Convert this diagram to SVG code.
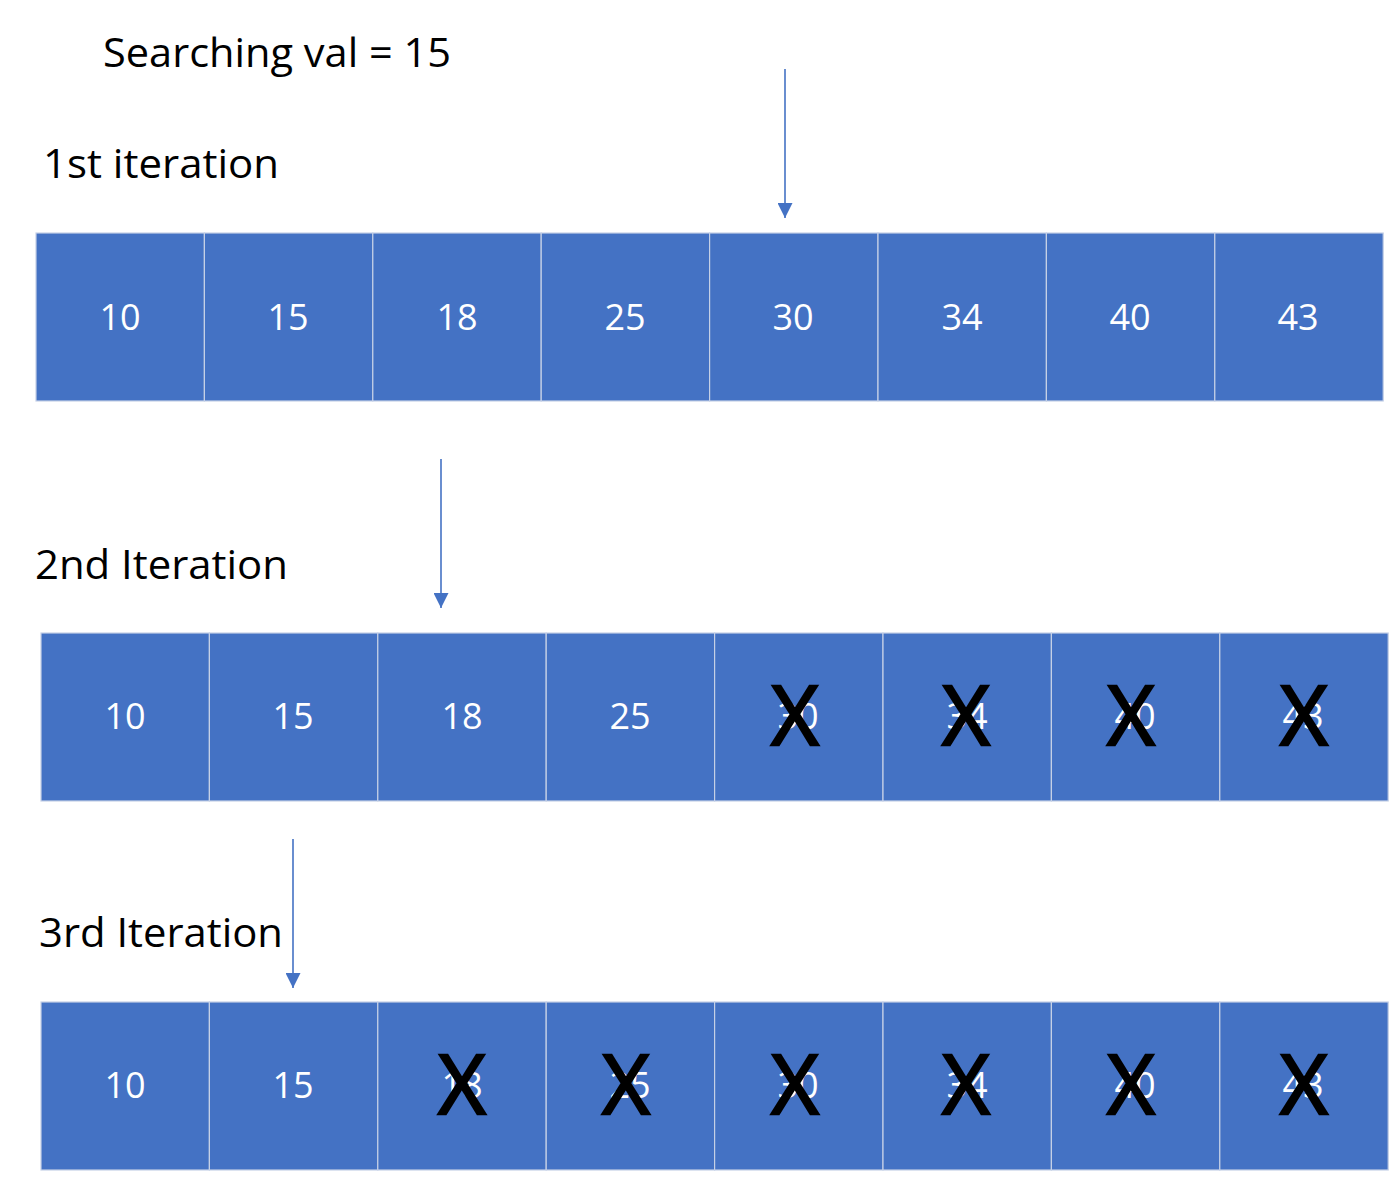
<svg xmlns="http://www.w3.org/2000/svg" width="1398" height="1199" viewBox="0 0 1398 1199">
<defs>
<style>
.cell{fill:#4472C4;stroke:#c5d0e6;stroke-width:1.2}
.num{font-family:"Open Sans","Liberation Sans",sans-serif;font-size:36px;fill:#ffffff;text-anchor:middle}
.lbl{font-family:"Open Sans","Liberation Sans",sans-serif;font-size:41px;fill:#000000}
.x{font-family:"Open Sans","Liberation Sans",sans-serif;font-size:82px;fill:#000000;stroke:#000000;stroke-width:2.5;text-anchor:middle}
.arr{stroke:#4472C4;stroke-width:1.6;fill:none;marker-end:url(#ah)}
</style>
<marker id="ah" viewBox="0 0 10 10" refX="10" refY="5" markerUnits="userSpaceOnUse" markerWidth="15" markerHeight="15" orient="auto">
<path d="M0,0 L10,5 L0,10 z" fill="#4472C4"/>
</marker>
</defs>
<rect width="1398" height="1199" fill="#ffffff"/>
<g id="labels">
<text class="lbl" x="103" y="67" textLength="348" lengthAdjust="spacingAndGlyphs">Searching val = 15</text>
<text class="lbl" x="43" y="178" textLength="236" lengthAdjust="spacingAndGlyphs">1st iteration</text>
<text class="lbl" x="35" y="579" textLength="253" lengthAdjust="spacingAndGlyphs">2nd Iteration</text>
<text class="lbl" x="39" y="947" textLength="244" lengthAdjust="spacingAndGlyphs">3rd Iteration</text>
</g>
<g id="row1">
<rect class="cell" x="36" y="233" width="168.4" height="168"/>
<rect class="cell" x="204.4" y="233" width="168.4" height="168"/>
<rect class="cell" x="372.8" y="233" width="168.4" height="168"/>
<rect class="cell" x="541.2" y="233" width="168.4" height="168"/>
<rect class="cell" x="709.6" y="233" width="168.4" height="168"/>
<rect class="cell" x="878" y="233" width="168.4" height="168"/>
<rect class="cell" x="1046.4" y="233" width="168.4" height="168"/>
<rect class="cell" x="1214.8" y="233" width="168.4" height="168"/>
<text class="num" x="120" y="330">10</text>
<text class="num" x="288" y="330">15</text>
<text class="num" x="457" y="330">18</text>
<text class="num" x="625" y="330">25</text>
<text class="num" x="793" y="330">30</text>
<text class="num" x="962" y="330">34</text>
<text class="num" x="1130" y="330">40</text>
<text class="num" x="1298" y="330">43</text>
</g>
<g id="row2">
<rect class="cell" x="41" y="633" width="168.4" height="168"/>
<rect class="cell" x="209.4" y="633" width="168.4" height="168"/>
<rect class="cell" x="377.8" y="633" width="168.4" height="168"/>
<rect class="cell" x="546.2" y="633" width="168.4" height="168"/>
<rect class="cell" x="714.6" y="633" width="168.4" height="168"/>
<rect class="cell" x="883" y="633" width="168.4" height="168"/>
<rect class="cell" x="1051.4" y="633" width="168.4" height="168"/>
<rect class="cell" x="1219.8" y="633" width="168.4" height="168"/>
<text class="num" x="125" y="729">10</text>
<text class="num" x="293" y="729">15</text>
<text class="num" x="462" y="729">18</text>
<text class="num" x="630" y="729">25</text>
<text class="num" x="798" y="729">30</text>
<text class="num" x="967" y="729">34</text>
<text class="num" x="1135" y="729">40</text>
<text class="num" x="1303" y="729">43</text>
<text class="x" x="795" y="745">X</text>
<text class="x" x="966" y="745">X</text>
<text class="x" x="1131" y="745">X</text>
<text class="x" x="1304" y="745">X</text>
</g>
<g id="row3">
<rect class="cell" x="41" y="1002" width="168.4" height="168"/>
<rect class="cell" x="209.4" y="1002" width="168.4" height="168"/>
<rect class="cell" x="377.8" y="1002" width="168.4" height="168"/>
<rect class="cell" x="546.2" y="1002" width="168.4" height="168"/>
<rect class="cell" x="714.6" y="1002" width="168.4" height="168"/>
<rect class="cell" x="883" y="1002" width="168.4" height="168"/>
<rect class="cell" x="1051.4" y="1002" width="168.4" height="168"/>
<rect class="cell" x="1219.8" y="1002" width="168.4" height="168"/>
<text class="num" x="125" y="1098">10</text>
<text class="num" x="293" y="1098">15</text>
<text class="num" x="462" y="1098">18</text>
<text class="num" x="630" y="1098">25</text>
<text class="num" x="798" y="1098">30</text>
<text class="num" x="967" y="1098">34</text>
<text class="num" x="1135" y="1098">40</text>
<text class="num" x="1303" y="1098">43</text>
<text class="x" x="462" y="1114">X</text>
<text class="x" x="626" y="1114">X</text>
<text class="x" x="795" y="1114">X</text>
<text class="x" x="966" y="1114">X</text>
<text class="x" x="1131" y="1114">X</text>
<text class="x" x="1304" y="1114">X</text>
</g>
<g id="connectors">
<line class="arr" x1="785" y1="69" x2="785" y2="218"/>
<line class="arr" x1="441" y1="459" x2="441" y2="608"/>
<line class="arr" x1="293" y1="839" x2="293" y2="988"/>
</g>
</svg>
